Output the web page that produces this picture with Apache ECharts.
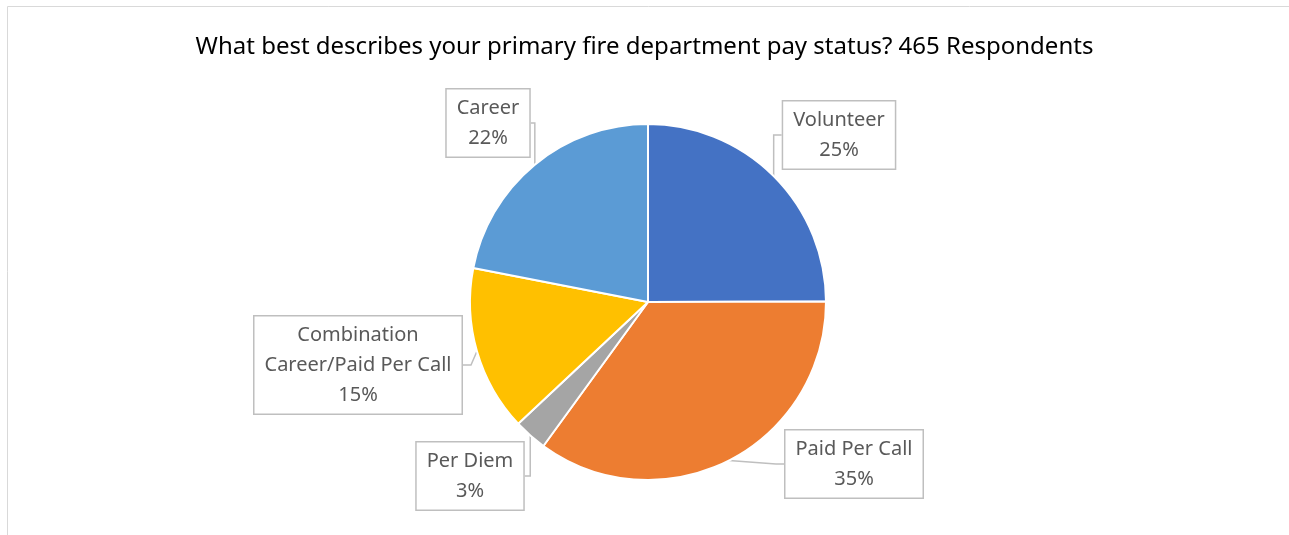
<!DOCTYPE html>
<html>
<head>
<meta charset="utf-8">
<script src="https://cdn.jsdelivr.net/npm/echarts@6/dist/echarts.min.js"></script>
<style>html,body{margin:0;padding:0;background:#fff}#c{width:1289px;height:535px}</style>
</head>
<body>
<div id="c"></div>
<script>
const titleText = 'What best describes your primary fire department pay status? 465 Respondents';
const categories = ['Volunteer', 'Paid Per Call', 'Per Diem', 'Combination\nCareer/Paid Per Call', 'Career'];
const counts = [116, 163, 14, 70, 102];
const percentLabels = ['25%', '35%', '3%', '15%', '22%'];
const colors = ['#4472C4', '#ED7D31', '#A5A5A5', '#FFC000', '#5B9BD5'];

const labelPos = [[839, 135], [854, 464], [470, 476], [358, 365], [488, 123]];

const chart = echarts.init(document.getElementById('c'));
chart.setOption({
  animation: false,
  title: {
    text: titleText, left: 'center', top: 30,
    textStyle: { fontFamily: 'Noto Sans', fontSize: 24, fontWeight: 'normal', color: '#000' }
  },
  graphic: [{
    type: 'rect', shape: { x: 7.5, y: 6.5, width: 1300, height: 600 },
    style: { fill: 'none', stroke: '#d9d9d9', lineWidth: 1 }, silent: true
  }],
  series: [{
    type: 'pie',
    center: [648, 302],
    radius: 178,
    startAngle: 90,
    clockwise: true,
    itemStyle: { borderColor: '#fff', borderWidth: 2 },
    data: categories.map((c, i) => ({ name: c, value: counts[i], itemStyle: { color: colors[i] } })),
    label: {
      show: true,
      formatter: p => p.name + '\n' + percentLabels[p.dataIndex],
      fontFamily: 'Noto Sans', fontSize: 20, color: '#595959', lineHeight: 30,
      backgroundColor: '#fff', borderColor: '#bfbfbf', borderWidth: 1.5,
      padding: [4, 10, 3, 10], align: 'center'
    },
    labelLine: { show: true, length: 8, length2: 8, lineStyle: { color: '#bfbfbf', width: 1.5 } },
    labelLayout: p => ({ x: labelPos[p.dataIndex][0], y: labelPos[p.dataIndex][1], align: 'center', verticalAlign: 'middle' })
  }]
});
</script>
</body>
</html>
